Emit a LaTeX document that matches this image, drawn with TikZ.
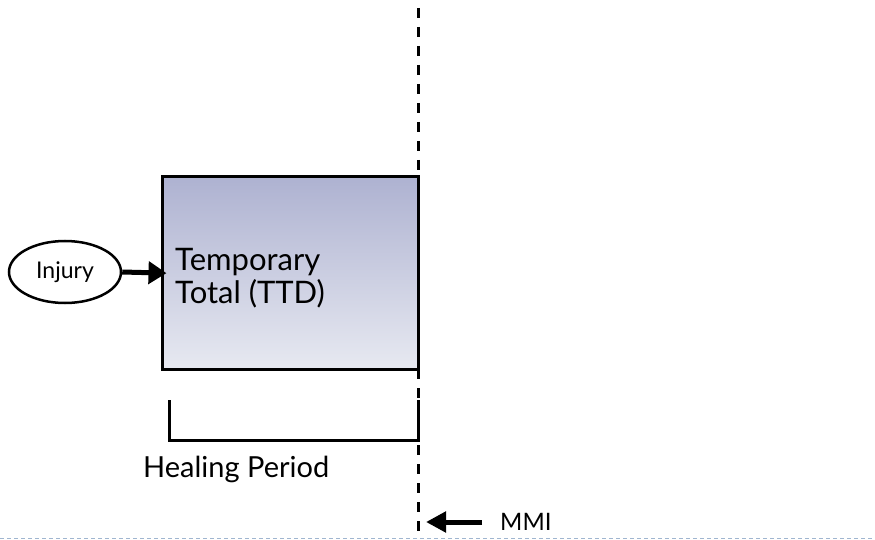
\documentclass[tikz,border=0pt]{standalone}
\usepackage{fontspec}
\setmainfont{Lato}
\usetikzlibrary{arrows.meta,shapes.geometric}
\definecolor{boxtop}{RGB}{174,178,209}
\definecolor{boxbot}{RGB}{231,233,241}
\definecolor{ruleblue}{RGB}{160,182,208}
\tikzset{
  heavy/.style={line width=3pt, black},
  boxnode/.style={draw, line width=3pt, minimum width=256pt, minimum height=192pt,
    top color=boxtop, bottom color=boxbot, inner sep=0pt},
  ovalnode/.style={ellipse, draw, line width=2.5pt, minimum width=112pt, minimum height=62pt,
    inner sep=0pt, font=\fontsize{23}{27}\selectfont},
  bigarrow/.style={line width=5pt, -{Triangle[length=18pt,width=22pt]}},
  label/.style={inner sep=0pt, anchor=base west},
}
\begin{document}
\begin{tikzpicture}[x=1pt,y=-1pt]
\useasboundingbox (0,0) rectangle (875,540);
% faint base rule
\draw[ruleblue, line width=1pt, dash pattern=on 4pt off 3pt] (0,538.8) -- (875,538.8);
% treatment box
\node[boxnode] (ttd) at (290,273) {};
\node[label, align=left, font=\fontsize{31}{33}\selectfont] (ttdtext) at (175,303) {Temporary\\Total (TTD)};
% injury event
\node[ovalnode] (injury) at (65,272) {Injury};
\draw[bigarrow, shorten >=-6pt] (injury.east) -- (ttd.west);
% MMI time line
\coordinate (mmitop) at (418,8);
\coordinate (mmibot) at (418,540);
\draw[heavy, dash pattern=on 10pt off 9pt] (mmitop) -- (mmibot);
% healing period bracket
\coordinate (brl) at (169,400);
\coordinate (brr) at (418,400);
\coordinate (brb) at (418,440);
\draw[heavy] (brl) |- (brb) -- (brr);
\node[label, font=\fontsize{29}{34}\selectfont] (healing) at (143,477) {Healing Period};
% MMI marker
\node[label, font=\fontsize{24}{28}\selectfont] (mmi) at (500,530) {MMI};
\coordinate (mmitip) at (426,522);
\draw[line width=5pt, -{Triangle[length=20pt,width=20pt]}] (482,522) -- (mmitip);
\end{tikzpicture}
\end{document}
